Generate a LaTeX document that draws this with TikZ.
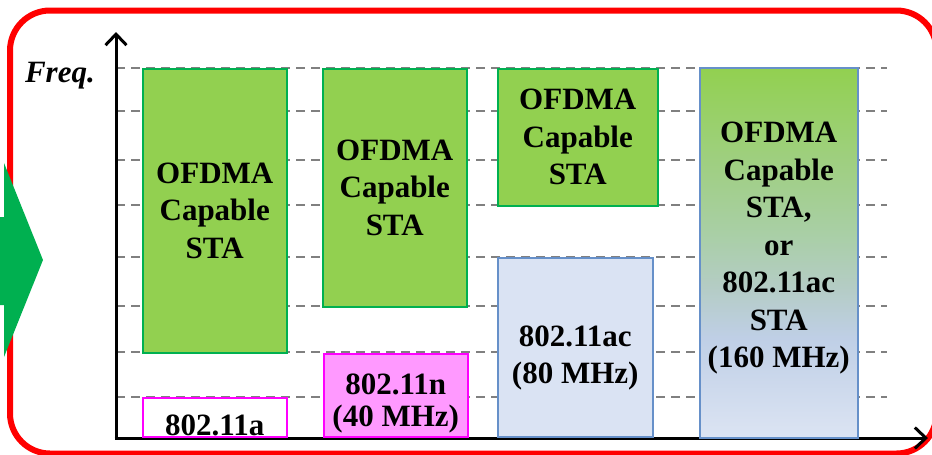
\documentclass[tikz,border=0pt]{standalone}
\usepackage{fontspec}
\setmainfont{LiberationSerif}[Extension=.ttf,UprightFont=*-Regular,
  BoldFont=*-Bold,ItalicFont=*-Italic,BoldItalicFont=*-BoldItalic]
\usetikzlibrary{positioning,arrows.meta}

\definecolor{stafill}{HTML}{92D050}
\definecolor{staline}{HTML}{00B050}
\definecolor{nfill}{HTML}{FF99FF}
\definecolor{nline}{HTML}{FF00FF}
\definecolor{acfill}{HTML}{DAE3F3}
\definecolor{acline}{HTML}{6690C9}
\definecolor{gridgray}{HTML}{808080}
\definecolor{framered}{HTML}{FF0000}
% stops of the shared 160 MHz band, bottom to top (path sits in 25bp--75bp)
\definecolor{mixa}{HTML}{DCE4F3}
\definecolor{mixb}{HTML}{BFCFE6}
\definecolor{mixc}{HTML}{B4CCC4}
\definecolor{mixd}{HTML}{A9CFA6}
\pgfdeclareverticalshading{mixband}{100bp}{color(0bp)=(mixa); color(25bp)=(mixa);
  color(38.5bp)=(mixb); color(45.5bp)=(mixc); color(52.5bp)=(mixd);
  color(75bp)=(stafill); color(100bp)=(stafill)}

\newcommand{\bandfont}{\fontsize{31}{37.5}\selectfont\bfseries}

\tikzset{
  band/.style={rectangle,draw,line width=1.5pt,anchor=north west,
    inner sep=0pt,align=center,font=\bandfont},
  ofdma/.style={band,fill=stafill,draw=staline},
  legacy/.style={band,draw=nline},
  vht/.style={band,fill=acfill,draw=acline},
  shifted/.style={align=center,font=\bandfont,yshift=#1},
  grid line/.style={gridgray,line width=1.6pt,dash pattern=on 9pt off 6pt},
  axis/.style={line width=3pt,-{Straight Barb[length=11pt,width=21pt]}}
}

\begin{document}
\begin{tikzpicture}[x=1pt,y=-1pt]
  \useasboundingbox (0,0) rectangle (932,455);
  % frame and the arrow coming in from the left
  \draw[framered,line width=6pt,rounded corners=40pt] (10,10.5) rectangle (936.5,453.5);
  \fill[staline] (-20,217) -- (4,217) -- (4,163) -- (43,260) -- (4,357)
    -- (4,305) -- (-20,305) -- cycle;

  % channel grid
  \foreach \y in {68,111,160,205,257,306,352,397}
    \draw[grid line] (116,\y) -- (887,\y);

  % axes
  \coordinate (origin) at (116,438);
  \coordinate (ytip) at (116,32);
  \coordinate (xtip) at (928,438);
  \draw[axis] (origin) -- (ytip);
  \draw[axis] (114.5,438) -- (xtip);
  \node[font=\fontsize{31}{36}\selectfont\bfseries\itshape,anchor=base east,inner sep=0pt] (freq) at (95,82) {Freq.};

  % 20 MHz
  \node[ofdma,minimum width=144pt,minimum height=284pt] (sta-a) at (142,68) {OFDMA\\Capable\\STA};
  \node[legacy,fill=white,minimum width=144pt,minimum height=39pt,
    label={[shifted=-8.5pt]center:802.11a}] (std-a) at (142,397) {};
  % 40 MHz
  \node[ofdma,minimum width=144pt,minimum height=238pt] (sta-n) at (322,68) {OFDMA\\Capable\\STA};
  \node[legacy,fill=nfill,minimum width=144pt,minimum height=83pt,
    label={[shifted=-8.5pt,font=\fontsize{31}{32}\selectfont\bfseries]center:802.11n\\(40 MHz)}]
    (std-n) at (323,353) {};
  % 80 MHz
  \node[ofdma,minimum width=160pt,minimum height=137pt] (sta-ac) at (497,68) {OFDMA\\Capable\\STA};
  \node[vht,minimum width=155pt,minimum height=179pt,
    label={[shifted=-10.5pt]center:802.11ac\\(80 MHz)}] (std-ac) at (497,257) {};
  % 160 MHz, shared
  \node[band,draw=acline,shading=mixband,minimum width=158pt,minimum height=370pt,
    label={[shifted=4.5pt]center:OFDMA\\Capable\\STA,\\or\\802.11ac\\STA\\(160 MHz)}]
    (sta-wide) at (699,67) {};
\end{tikzpicture}
\end{document}
